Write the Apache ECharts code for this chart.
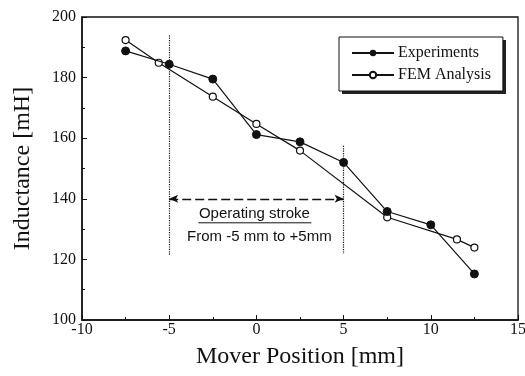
<!DOCTYPE html>
<html>
<head>
<meta charset="utf-8">
<script src="https://cdn.jsdelivr.net/npm/echarts@6/dist/echarts.min.js"></script>
<style>
  html, body { margin: 0; padding: 0; background: #fff; }
  #chart { width: 525px; height: 376px; }
</style>
</head>
<body>
<div id="chart"></div>
<script>
// data
const expX = [-7.5, -5, -2.5, 0, 2.5, 5, 7.5, 10, 12.5];
const expY = [188.8, 184.4, 179.5, 161.2, 158.8, 152.0, 135.8, 131.4, 115.2];
const femX = [-7.5, -5.6, -2.5, 0, 2.5, 7.5, 11.5, 12.5];
const femY = [192.4, 184.9, 173.7, 164.7, 155.9, 133.9, 126.6, 123.9];
const strokeFrom = -5;
const strokeTo = 5;

const serif = 'Liberation Serif';
const zip = (xs, ys) => xs.map((x, i) => [x, ys[i]]);

const chart = echarts.init(document.getElementById('chart'));

chart.setOption({
    animation: false,
    backgroundColor: '#fff',
    grid: {
        left: 82, right: 7, top: 17, bottom: 56,
        outerBoundsMode: 'none', containLabel: false,
        show: true, borderColor: '#111', borderWidth: 1.3
    },
    xAxis: {
        type: 'value',
        min: -10, max: 15, interval: 5,
        name: 'Mover Position [mm]',
        nameLocation: 'middle',
        nameGap: 25,
        nameTextStyle: { fontFamily: serif, fontSize: 24, color: '#111' },
        axisLine: { onZero: false, lineStyle: { color: '#111', width: 1.5 } },
        axisTick: { inside: true, length: 5, lineStyle: { color: '#111' } },
        minorTick: { show: true, splitNumber: 2, length: 3, lineStyle: { color: '#111' } },
        axisLabel: { fontFamily: serif, fontSize: 16, color: '#111', margin: 2 },
        splitLine: { show: false }
    },
    yAxis: {
        type: 'value',
        min: 100, max: 200, interval: 20,
        name: 'Inductance [mH]',
        nameLocation: 'middle',
        nameGap: 47,
        nameTextStyle: { fontFamily: serif, fontSize: 24, color: '#111' },
        axisLine: { onZero: false, lineStyle: { color: '#111', width: 1.5 } },
        axisTick: { inside: true, length: 5, lineStyle: { color: '#111' } },
        minorTick: { show: true, splitNumber: 2, length: 3, lineStyle: { color: '#111' } },
        axisLabel: { fontFamily: serif, fontSize: 16, color: '#111', margin: 6 },
        splitLine: { show: false }
    },
    legend: {
        left: 339, top: 37,
        orient: 'vertical',
        itemWidth: 42, itemHeight: 8, itemGap: 6,
        padding: [8, 12, 8, 12],
        backgroundColor: '#fff',
        borderColor: '#111', borderWidth: 1,
        z: 5,
        textStyle: { fontFamily: serif, fontSize: 16, color: '#111', padding: [0, 0, 0, -1] },
        data: ['Experiments', 'FEM Analysis']
    },
    graphic: [
        {
            // legend drop shadow
            type: 'rect', z: 4,
            shape: { x: 342, y: 40, width: 164, height: 54 },
            style: { fill: '#222' }
        }
    ],
    series: [
        {
            name: 'Experiments',
            type: 'line',
            data: zip(expX, expY),
            symbol: 'circle', symbolSize: 8,
            itemStyle: { color: '#111', borderColor: '#111' },
            lineStyle: { color: '#111', width: 1.2 },
            z: 3,
            markLine: {
                silent: true,
                symbol: ['none', 'none'],
                label: { show: false },
                lineStyle: { type: 'dotted', color: '#111', width: 1.2 },
                data: [
                    [{ coord: [strokeFrom, 194] }, { coord: [strokeFrom, 121.5] }],
                    [{ coord: [strokeTo, 157.5] }, { coord: [strokeTo, 121.8] }],
                    [
                        { coord: [strokeFrom, 140], symbol: 'arrow', symbolSize: [6, 9],
                          lineStyle: { type: [9, 4], width: 1.3 } },
                        { coord: [strokeTo, 140], symbol: 'arrow', symbolSize: [6, 9] }
                    ]
                ]
            }
        },
        {
            name: 'FEM Analysis',
            type: 'line',
            data: zip(femX, femY),
            symbol: 'circle', symbolSize: 7,
            itemStyle: { color: '#fff', borderColor: '#111', borderWidth: 1.2 },
            lineStyle: { color: '#111', width: 1.2 },
            z: 2
        }
    ]
});

// stroke annotation text, placed at the middle of the arrow
const mid = chart.convertToPixel({ gridIndex: 0 }, [(strokeFrom + strokeTo) / 2, 140]);
chart.setOption({
    graphic: [
        {},
        {
            type: 'text', x: mid[0] - 2, y: mid[1] + 15,
            style: {
                text: 'Operating stroke', fontFamily: 'Liberation Sans', fontSize: 15,
                fill: '#111', align: 'center', verticalAlign: 'middle'
            }
        },
        {
            type: 'line',
            shape: { x1: mid[0] - 58, y1: mid[1] + 24, x2: mid[0] + 55, y2: mid[1] + 24 },
            style: { stroke: '#111', lineWidth: 1 }
        },
        {
            type: 'text', x: mid[0] + 3, y: mid[1] + 38,
            style: {
                text: 'From -5 mm to +5mm', fontFamily: 'Liberation Sans', fontSize: 15,
                fill: '#111', align: 'center', verticalAlign: 'middle'
            }
        }
    ]
});
</script>
</body>
</html>
